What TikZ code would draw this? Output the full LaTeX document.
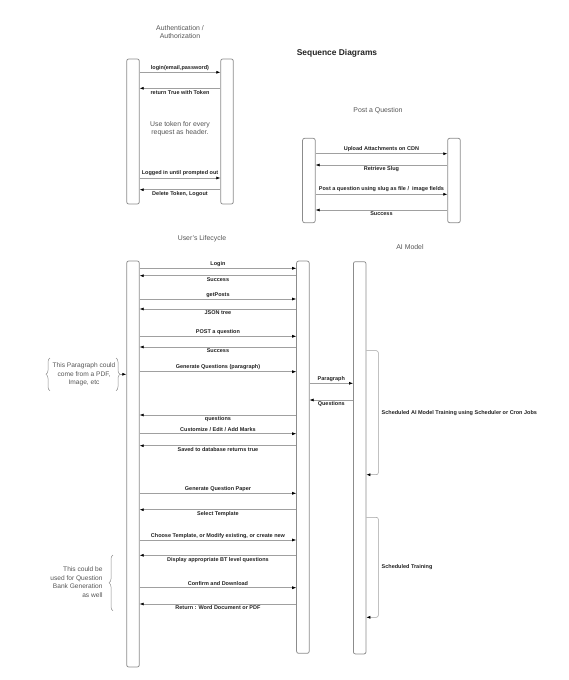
\documentclass[tikz,border=0pt]{standalone}
\usepackage{fontspec}
\setmainfont{Liberation Sans}
\usetikzlibrary{arrows.meta,decorations.pathreplacing}
\definecolor{linegray}{HTML}{A0A0A0}
\definecolor{bargray}{HTML}{8C8C8C}
\definecolor{txtgray}{HTML}{555555}
\definecolor{lblc}{HTML}{222222}
\begin{document}
\begin{tikzpicture}[x=1pt,y=-1pt,
  bar/.style={draw=bargray, line width=0.75pt, fill=white, rounded corners=2pt, minimum width=12.6pt, inner sep=0pt},
  msg/.style={draw=linegray, line width=0.55pt, -{Latex[length=4pt,width=3pt,color=black]}},
  lbl/.style={font=\fontsize{5.5}{6.5}\selectfont\bfseries, text=lblc, inner sep=0.5pt},
  ttl/.style={font=\fontsize{6.9}{8.2}\selectfont, text=txtgray, align=center, inner sep=0pt},
  bracestyle/.style={draw=bargray, line width=0.5pt, decorate, decoration={brace, amplitude=4pt}},
]
\useasboundingbox (0,0) rectangle (568,680);

% ---------- titles ----------
\node[ttl] (tAuth) at (180,32) {Authentication /\\Authorization};
\node[font=\fontsize{8.4}{9.5}\selectfont\bfseries, text=lblc, inner sep=0pt] (tSeq) at (337,53) {Sequence Diagrams};
\node[ttl] (tPost) at (378,110.7) {Post a Question};
\node[ttl] (tUser) at (202,238.3) {User's Lifecycle};
\node[ttl] (tAI) at (410,247.3) {AI Model};

% ---------- Authentication ----------
\node[bar, minimum height=145pt] (aL) at (133,131.5) {};
\node[bar, minimum height=145pt] (aR) at (227,131.5) {};
\node[ttl] (tTok) at (180,128.5) {Use token for every\\request as header.};
\draw[msg] (aL.east |- 0,72.3) -- node[lbl, above=1pt] {login(email,password)} (aR.west |- 0,72.3);
\draw[msg] (aR.west |- 0,88.3) -- node[lbl, below=1pt] {return True with Token} (aL.east |- 0,88.3);
\draw[msg] (aL.east |- 0,178) -- node[lbl, above=1.5pt] {Logged in until prompted out} (aR.west |- 0,178);
\draw[msg] (aR.west |- 0,189.7) -- node[lbl, below=1pt] {Delete Token, Logout} (aL.east |- 0,189.7);

% ---------- Post a Question ----------
\node[bar, minimum height=84.4pt] (pL) at (308.9,180.5) {};
\node[bar, minimum height=84.4pt] (pR) at (454,180.5) {};
\draw[msg] (pL.east |- 0,153.7) -- node[lbl, above=1pt] {Upload Attachments on CDN} (pR.west |- 0,153.7);
\draw[msg] (pR.west |- 0,165) -- node[lbl, below=1pt] {Retrieve Slug} (pL.east |- 0,165);
\draw[msg] (pL.east |- 0,194.3) -- node[lbl, above=2pt] {Post a question using slug as file /\ \ image fields} (pR.west |- 0,194.3);
\draw[msg] (pR.west |- 0,210) -- node[lbl, below=1pt] {Success} (pL.east |- 0,210);

% ---------- User's Lifecycle ----------
\node[bar, minimum height=406pt] (uL) at (133,464) {};
\node[bar, minimum height=392.3pt] (uS) at (302.9,457.2) {};
\node[bar, minimum height=392.3pt] (uA) at (359.7,457.8) {};

\draw[msg] (uL.east |- 0,268.3) -- node[lbl, above=1pt] {Login} (uS.west |- 0,268.3);
\draw[msg] (uS.west |- 0,275.7) -- node[lbl, below=1pt] {Success} (uL.east |- 0,275.7);
\draw[msg] (uL.east |- 0,299) -- node[lbl, above=1pt] {getPosts} (uS.west |- 0,299);
\draw[msg] (uS.west |- 0,309) -- node[lbl, below=1pt] {JSON tree} (uL.east |- 0,309);
\draw[msg] (uL.east |- 0,336.3) -- node[lbl, above=1pt] {POST a question} (uS.west |- 0,336.3);
\draw[msg] (uS.west |- 0,347) -- node[lbl, below=1pt] {Success} (uL.east |- 0,347);
\draw[msg] (uL.east |- 0,371.7) -- node[lbl, above=1pt] {Generate Questions (paragraph)} (uS.west |- 0,371.7);
\draw[msg] (uS.east |- 0,383.3) -- node[lbl, above=1pt] {Paragraph} (uA.west |- 0,383.3);
\draw[msg] (uA.west |- 0,400) -- node[lbl, below=1pt] {Questions} (uS.east |- 0,400);
\draw[msg] (uS.west |- 0,415) -- node[lbl, below=1pt] {questions} (uL.east |- 0,415);
\draw[msg] (uL.east |- 0,433.7) -- node[lbl, above=1pt] {Customize / Edit / Add Marks} (uS.west |- 0,433.7);
\draw[msg] (uS.west |- 0,445.7) -- node[lbl, below=1pt] {Saved to database returns true} (uL.east |- 0,445.7);
\draw[msg] (uL.east |- 0,493.3) -- node[lbl, above=1pt] {Generate Question Paper} (uS.west |- 0,493.3);
\draw[msg] (uS.west |- 0,509.7) -- node[lbl, below=1pt] {Select Template} (uL.east |- 0,509.7);
\draw[msg] (uL.east |- 0,540) -- node[lbl, above=1pt] {Choose Template, or Modify existing, or create new} (uS.west |- 0,540);
\draw[msg] (uS.west |- 0,555.3) -- node[lbl, below=1pt] {Display appropriate BT level questions} (uL.east |- 0,555.3);
\draw[msg] (uL.east |- 0,587.7) -- node[lbl, above=1pt] {Confirm and Download} (uS.west |- 0,587.7);
\draw[msg] (uS.west |- 0,604) -- node[lbl, below=1pt] {Return : Word Document or PDF} (uL.east |- 0,604);

% self loops on AI model
\draw[msg, rounded corners=2pt] (uA.east |- 0,350.7) -- (378.3,350.7) -- (378.3,474.7) -- (uA.east |- 0,474.7);
\node[lbl, anchor=west] (lTrain1) at (381,412.7) {Scheduled AI Model Training using Scheduler or Cron Jobs};
\draw[msg, rounded corners=2pt] (uA.east |- 0,517.3) -- (378.3,517.3) -- (378.3,617.3) -- (uA.east |- 0,617.3);
\node[lbl, anchor=west, font=\fontsize{5.5}{6.5}\selectfont\bfseries] (lTrain2) at (381,567.3) {Scheduled Training};

% ---------- notes with braces ----------
\node[font=\fontsize{6.6}{8.4}\selectfont, text=txtgray, align=center, inner sep=0pt] (nPara) at (84,374.3) {This Paragraph could\\come from a PDF,\\Image, etc};
\draw[bracestyle] (50,390.7) -- (50,358);
\draw[bracestyle] (116,358) -- (116,390.7);
\coordinate (braceTip) at (120,374.3);
\draw[msg] (braceTip) -- (uL.west |- 0,374.3);

\node[font=\fontsize{6.6}{8.6}\selectfont, text=txtgray, align=right, inner sep=0pt, anchor=east] (nBank) at (102.7,582) {This could be\\used for Question\\Bank Generation\\as well};
\draw[bracestyle] (113,610.7) -- (113,555);
\end{tikzpicture}
\end{document}
